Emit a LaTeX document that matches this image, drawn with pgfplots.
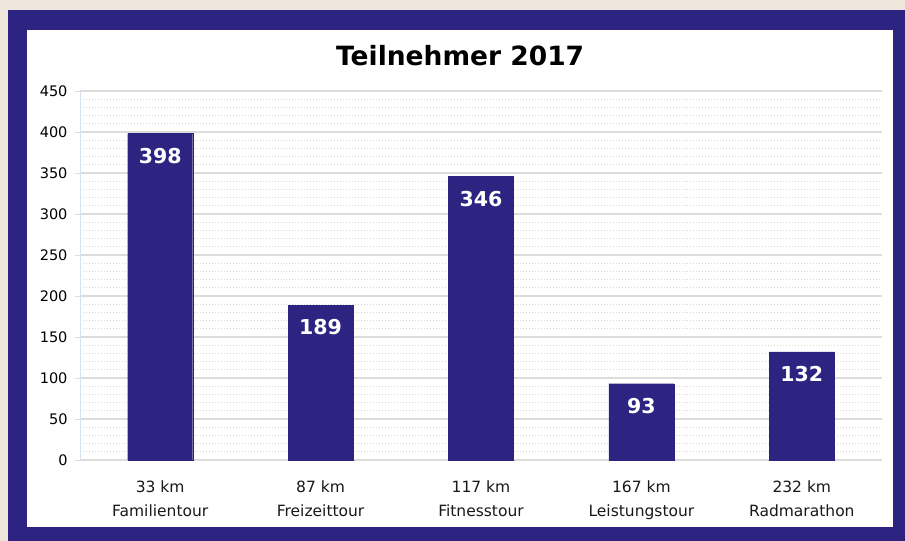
\documentclass[border=0pt]{standalone}
\usepackage{pgfplots}
\pgfplotsset{compat=1.18}
\usepackage{fontspec}
\setmainfont{DejaVu Sans}
\definecolor{navy}{HTML}{2C2480}
\definecolor{beige}{HTML}{EEE5DB}
\definecolor{gridmaj}{HTML}{DCDCDC}
\definecolor{gridmin}{HTML}{D6D6D6}
\definecolor{ltblue}{HTML}{D5E0F0}
\begin{document}
\begin{tikzpicture}[x=1bp,y=1bp]
\fill[beige] (0,0) rectangle (905,541);
\fill[navy] (8,0) rectangle (905,531);
\fill[white] (27,14) rectangle (893,511);
\begin{axis}[
  at={(80bp,81bp)}, anchor=south west,
  width=802bp, height=369bp, scale only axis,
  xmin=-0.5, xmax=4.5, ymin=0, ymax=450,
  axis x line*=bottom, axis y line*=left,
  x axis line style={draw=gridmaj, line width=1.3bp, -},
  y axis line style={draw=ltblue, line width=0.8bp, -},
  ybar, bar width=65bp,
  xtick={0,1,2,3,4},
  xticklabels={{33 km\\Familientour},{87 km\\Freizeittour},{117 km\\Fitnesstour},{167 km\\Leistungstour},{232 km\\Radmarathon}},
  xticklabel style={align=center, font=\fontsize{15.5bp}{23.5bp}\selectfont, text=black!90, yshift=-12.5bp},
  x tick style={draw=none},
  extra x ticks={-0.5,0.5,1.5,2.5,3.5,4.5},
  extra x tick labels={},
  extra x tick style={major tick length=5bp, tick align=outside, tick style={draw=gray!70, line width=0.8bp}},
  ytick={0,50,...,450},
  minor y tick num=4,
  ymajorgrids, yminorgrids,
  major grid style={draw=gridmaj, line width=1.5bp},
  minor grid style={draw=gridmin, line width=1bp, dotted},
  y tick style={draw=ltblue, line width=0.8bp},
  major tick length=5bp,
  minor tick length=0bp,
  tick align=outside,
  yticklabel style={font=\fontsize{14.5bp}{16bp}\selectfont, text=black, xshift=-4bp},
  /pgf/number format/assume math mode=true,
  title={Teilnehmer 2017},
  title style={at={(rel axis cs:0.474,1.079)}, anchor=center, font=\bfseries\fontsize{26.5bp}{28bp}\selectfont, text=black},
  nodes near coords,
  every node near coord/.append style={anchor=north, yshift=-11bp, text=white, font=\bfseries\fontsize{20.5bp}{22bp}\selectfont},
  clip=false,
]
\addplot[fill=navy, draw=navy] coordinates {(0,398) (1,189) (2,346) (3,93) (4,132)};
\end{axis}
\end{tikzpicture}
\end{document}
